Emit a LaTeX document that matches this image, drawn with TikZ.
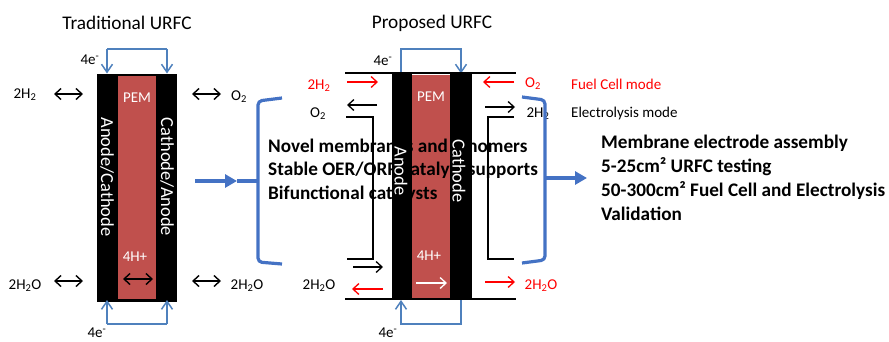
\documentclass[tikz,border=0pt]{standalone}
\usepackage{fontspec}
\setmainfont{Carlito}
\usetikzlibrary{arrows.meta}
\definecolor{pemred}{HTML}{C0504D}
\definecolor{wireblue}{HTML}{4F81BD}
\definecolor{braceblue}{HTML}{4472C4}
\tikzstyle{stack} = [draw=none, fill=black, rectangle, inner sep=0, minimum width=80pt]
\tikzstyle{strip} = [draw=none, fill=black, rectangle, inner sep=0, minimum height=226pt]
\tikzstyle{pem} = [draw=none, fill=pemred, rectangle, inner sep=0, minimum width=38pt]
\tikzstyle{lbl} = [inner sep=0, font=\fontsize{15}{15}\selectfont]
\tikzstyle{redlbl} = [lbl, text=red]
\tikzstyle{whitelbl} = [lbl, text=white]
\tikzstyle{sidelbl} = [inner sep=0, text=white, rotate=-90, font=\fontsize{18.4}{18.4}\selectfont]
\tikzstyle{fancytitle} = [inner sep=0, font=\fontsize{19.3}{19.3}\selectfont]
\tikzstyle{boldlist} = [inner sep=0, anchor=west, font=\fontsize{19.2}{19.2}\selectfont\bfseries]
\tikzstyle{wire} = [draw=wireblue, line width=1.5pt, -{Straight Barb[length=8pt,width=11pt]}]
\tikzstyle{plate} = [draw=black, line width=2.2pt]
\tikzstyle{gas} = [line width=1.3pt, -{Straight Barb[length=6pt,width=11pt]}]
\tikzstyle{gasboth} = [line width=1.4pt, {Straight Barb[length=6pt,width=11pt]}-{Straight Barb[length=6pt,width=11pt]}]
\tikzstyle{brace} = [draw=braceblue, line width=3.2pt, rounded corners=4pt]
\tikzstyle{bigarrow} = [draw=braceblue, line width=3.2pt, -{Triangle[length=12pt,width=13pt]}]

\begin{document}
\begin{tikzpicture}[x=1pt, y=-1pt]
\useasboundingbox (0,0) rectangle (889,341);

% membrane of the proposed cell, under the list
\node[pem, minimum height=223pt] (proppem) at (431,186.5) {};

% list that runs across the proposed cell
\node[boldlist] (novel) at (268,146) {Novel membranes and ionomers};
\node[boldlist] (stable) at (268,170) {Stable OER/ORR catalyst supports};
\node[boldlist] (bifunc) at (268,194) {Bifunctional catalysts};

% traditional cell
\node[fancytitle] (tradtitle) at (127,23) {Traditional URFC};
\node[stack, minimum height=228pt] (tradstack) at (137,187.5) {};
\node[pem, minimum height=223pt] (tradpem) at (137,187.5) {};
\node[whitelbl] (tradpemlbl) at (137,98) {PEM};
\node[whitelbl] (tradhlbl) at (135,257) {4H+};
\node[sidelbl] (tradanode) at (107,177) {Anode/Cathode};
\node[sidelbl] (tradcathode) at (167,177) {Cathode/Anode};
\node[lbl] (tradh2) at (25,95) {2H\textsubscript{2}};
\node[lbl] (trado2) at (239,97) {O\textsubscript{2}};
\node[lbl] (tradwaterl) at (25,286) {2H\textsubscript{2}O};
\node[lbl] (tradwaterr) at (247,286) {2H\textsubscript{2}O};
\node[lbl] (tradetop) at (90,60) {4e\textsuperscript{-}};
\node[lbl] (tradebot) at (97,333) {4e\textsuperscript{-}};

% proposed cell
\node[fancytitle] (proptitle) at (432,23) {Proposed URFC};
\node[strip, minimum width=20pt] (propleft) at (402,186) {};
\node[strip, minimum width=22pt] (propright) at (461,186) {};
\node[whitelbl] (proppemlbl) at (431,97) {PEM};
\node[whitelbl] (prophlbl) at (429,256) {4H+};
\node[sidelbl] (propanode) at (401,171) {Anode};
\node[sidelbl] (propcathode) at (459,171) {Cathode};
\node[redlbl] (proph2) at (319,86) {2H\textsubscript{2}};
\node[lbl] (propo2) at (318,114) {O\textsubscript{2}};
\node[redlbl] (propo2r) at (533,84) {O\textsubscript{2}};
\node[lbl] (proph2r) at (538,114) {2H\textsubscript{2}};
\node[lbl] (propwaterl) at (319,286) {2H\textsubscript{2}O};
\node[redlbl] (propwaterr) at (541,286) {2H\textsubscript{2}O};
\node[lbl] (propetop) at (383,61) {4e\textsuperscript{-}};
\node[lbl] (propebot) at (388,333) {4e\textsuperscript{-}};

% mode labels and right hand list
\node[redlbl, anchor=west] (fuelmode) at (571,84) {Fuel Cell mode};
\node[lbl, anchor=west] (elecmode) at (571,113) {Electrolysis mode};
\node[boldlist] (mea) at (601,143) {Membrane electrode assembly};
\node[boldlist] (testing) at (601,167) {5-25cm² URFC testing};
\node[boldlist] (validone) at (601,191) {50-300cm² Fuel Cell and Electrolysis};
\node[boldlist] (validtwo) at (601,214) {Validation};

% end points
\foreach \n/\x in {ta/107,tb/167,pa/401,pb/461} {
    \coordinate (\n top) at (\x,49);
    \coordinate (\n bot) at (\x,324);
    \coordinate (\n up) at (\x,73.5);
    \coordinate (\n down) at (\x,300);
}
\foreach \n/\x/\y in {
    g1a/54/94, g1b/83/94, g2a/192/94, g2b/221/94,
    g3a/54/281, g3b/83/281, g4a/192/281, g4b/221/281,
    g5a/123/279, g5b/153/279,
    r1a/347/82, r1b/378/82, r2a/514/82, r2b/483/82,
    k1a/377/105, k1b/347/105, k2a/485/107, k2b/515/107,
    k3a/353/267, k3b/383/267, r3a/383/289, r3b/352/289,
    w1a/416/283, w1b/447/283, r4a/485/282, r4b/515/282,
    ptl/345/73, ptr/516/73, pbl/345/299, pbr/516/299,
    il1/346/117, il2/373/117, il3/373/259, il4/347/259,
    ir1/514/117, ir2/488/117, ir3/488/259, ir4/514/259,
    bl1/282/98, bl2/258/101, bl3/258/181, bl4/258/262, bl5/282/264,
    br1/522/97, br2/545/100, br3/545/178, br4/545/260, br5/522/263,
    ba/195/181, bc/237/181, bd/587/178
} {
    \coordinate (\n) at (\x,\y);
}

% electrons
\draw[wire] (tatop) -- (taup);
\draw[wire] (tbtop) -- (tbup);
\draw[wire, -] (tatop) -- (tbtop);
\draw[wire] (tabot) -- (tadown);
\draw[wire] (tbbot) -- (tbdown);
\draw[wire, -] (tabot) -- (tbbot);
\draw[wire] (paup) -- (patop) -- (pbtop) -- (pbup);
\draw[wire] (pbdown) -- (pbbot) -- (pabot) -- (padown);

% plates
\draw[plate] (ptl) -- (ptr);
\draw[plate] (pbl) -- (pbr);
\draw[plate] (il1) -- (il2) -- (il3) -- (il4);
\draw[plate] (ir1) -- (ir2) -- (ir3) -- (ir4);

% gas arrows
\foreach \n in {g1,g2,g3,g4,g5}
    \draw[gasboth] (\n a) -- (\n b);
\foreach \n in {k1,k2,k3}
    \draw[gas] (\n a) -- (\n b);
\foreach \n in {r1,r2,r3,r4}
    \draw[gas, red] (\n a) -- (\n b);
\draw[gas, white] (w1a) -- (w1b);

% braces
\draw[brace] (bl1) -- (bl2) -- (bl3) -- (bl4) -- (bl5);
\draw[brace] (br1) -- (br2) -- (br3) -- (br4) -- (br5);
\draw[bigarrow] (ba) -- (bc);
\draw[brace, rounded corners=0] (bc) -- (bl3);
\draw[bigarrow] (br3) -- (bd);
\end{tikzpicture}
\end{document}
